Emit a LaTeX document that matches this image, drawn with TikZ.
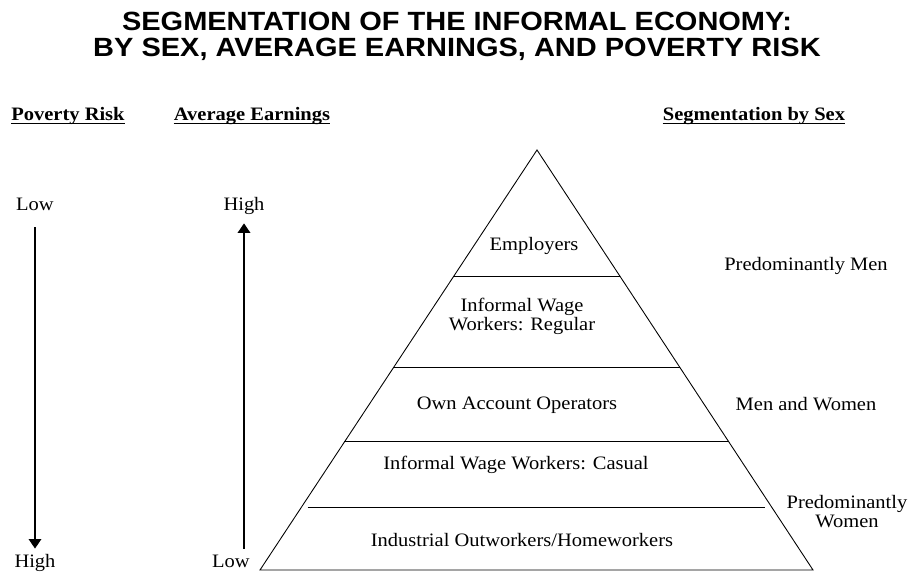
\documentclass[tikz,border=0pt]{standalone}
\usepackage{fontspec}
\setmainfont{Liberation Serif}[FakeStretch=1.08]
\newfontfamily\titlefont{Liberation Sans}[FakeStretch=1.1]
\usetikzlibrary{arrows.meta,calc}

\tikzset{
	lbl/.style={font=\fontsize{10.8}{10.9}\selectfont, inner sep=0pt, anchor=base, align=center},
	head/.style={lbl, font=\fontsize{10.8}{10.9}\selectfont\bfseries},
	ttl/.style={inner sep=0pt, anchor=base, font=\titlefont\bfseries\fontsize{15}{17}\selectfont},
	scalearrow/.style={line width=1.4pt, -{Triangle[width=7pt,length=5.5pt]}},
	pyr/.style={line width=0.5pt}
}

\begin{document}
\begin{tikzpicture}[x=0.02cm, y=-0.02cm]
			%%%%% START %%%%%
			\useasboundingbox (0, 0) rectangle (913, 573);
			
			\node[ttl] (titlea) at (457, 31) {SEGMENTATION OF THE INFORMAL ECONOMY:};
			\node[ttl] (titleb) at (457, 57) {BY SEX, AVERAGE EARNINGS, AND POVERTY RISK};
			
			\node[head] (pov) at (68, 121) {Poverty Risk};
			\node[head] (avg) at (252, 121) {Average Earnings};
			\node[head] (seg) at (754, 121) {Segmentation by Sex};
			\foreach \h in {pov, avg, seg}
				\draw[line width=0.8pt] ([yshift=-1.4pt]\h.base west) -- ([yshift=-1.4pt]\h.base east);
			
			\node[lbl, text height=7pt, text depth=2pt] (povlow) at (35, 211) {Low};
			\node[lbl, text height=7pt, text depth=2pt] (povhigh) at (35, 568) {High};
			\draw[scalearrow, shorten <=7.1pt, shorten >=3.8pt] (povlow.south) -- (povlow.south |- povhigh.north);
			
			\node[lbl, text height=7pt, text depth=2pt] (eanhigh) at (244, 211) {High};
			\node[lbl, text height=7pt, text depth=2pt] (eanlow) at (231, 568) {Low};
			\draw[scalearrow, shorten <=3.8pt, shorten >=4.8pt] (eanhigh.south |- eanlow.north) -- (eanhigh.south);
			
			\coordinate (apex) at (537, 150);
			\coordinate (bl) at (260, 570);
			\coordinate (br) at (813, 570);
			\draw[pyr] (apex) -- (bl) -- (br) -- cycle;
			\foreach \t/\s in {0.3/0pt, 0.517/0pt, 0.695/0pt, 0.85/3.5pt}
				\draw[pyr, shorten <=\s, shorten >=\s] ($(apex)!\t!(bl)$) -- ($(apex)!\t!(br)$);
			
			\node[lbl] (emp) at (534, 251) {Employers};
			\node[lbl] (iwreg) at (522, 331) {Informal Wage\\Workers: Regular};
			\node[lbl] (ownacc) at (517, 410) {Own Account Operators};
			\node[lbl] (iwcas) at (516, 470) {Informal Wage Workers: Casual};
			\node[lbl] (indout) at (522, 547) {Industrial Outworkers/Homeworkers};
			
			\node[lbl] (men) at (806, 271) {Predominantly Men};
			\node[lbl] (both) at (806, 411) {Men and Women};
			\node[lbl] (women) at (847, 528) {Predominantly\\Women};
			%%%%% END %%%%%
\end{tikzpicture}
\end{document}
